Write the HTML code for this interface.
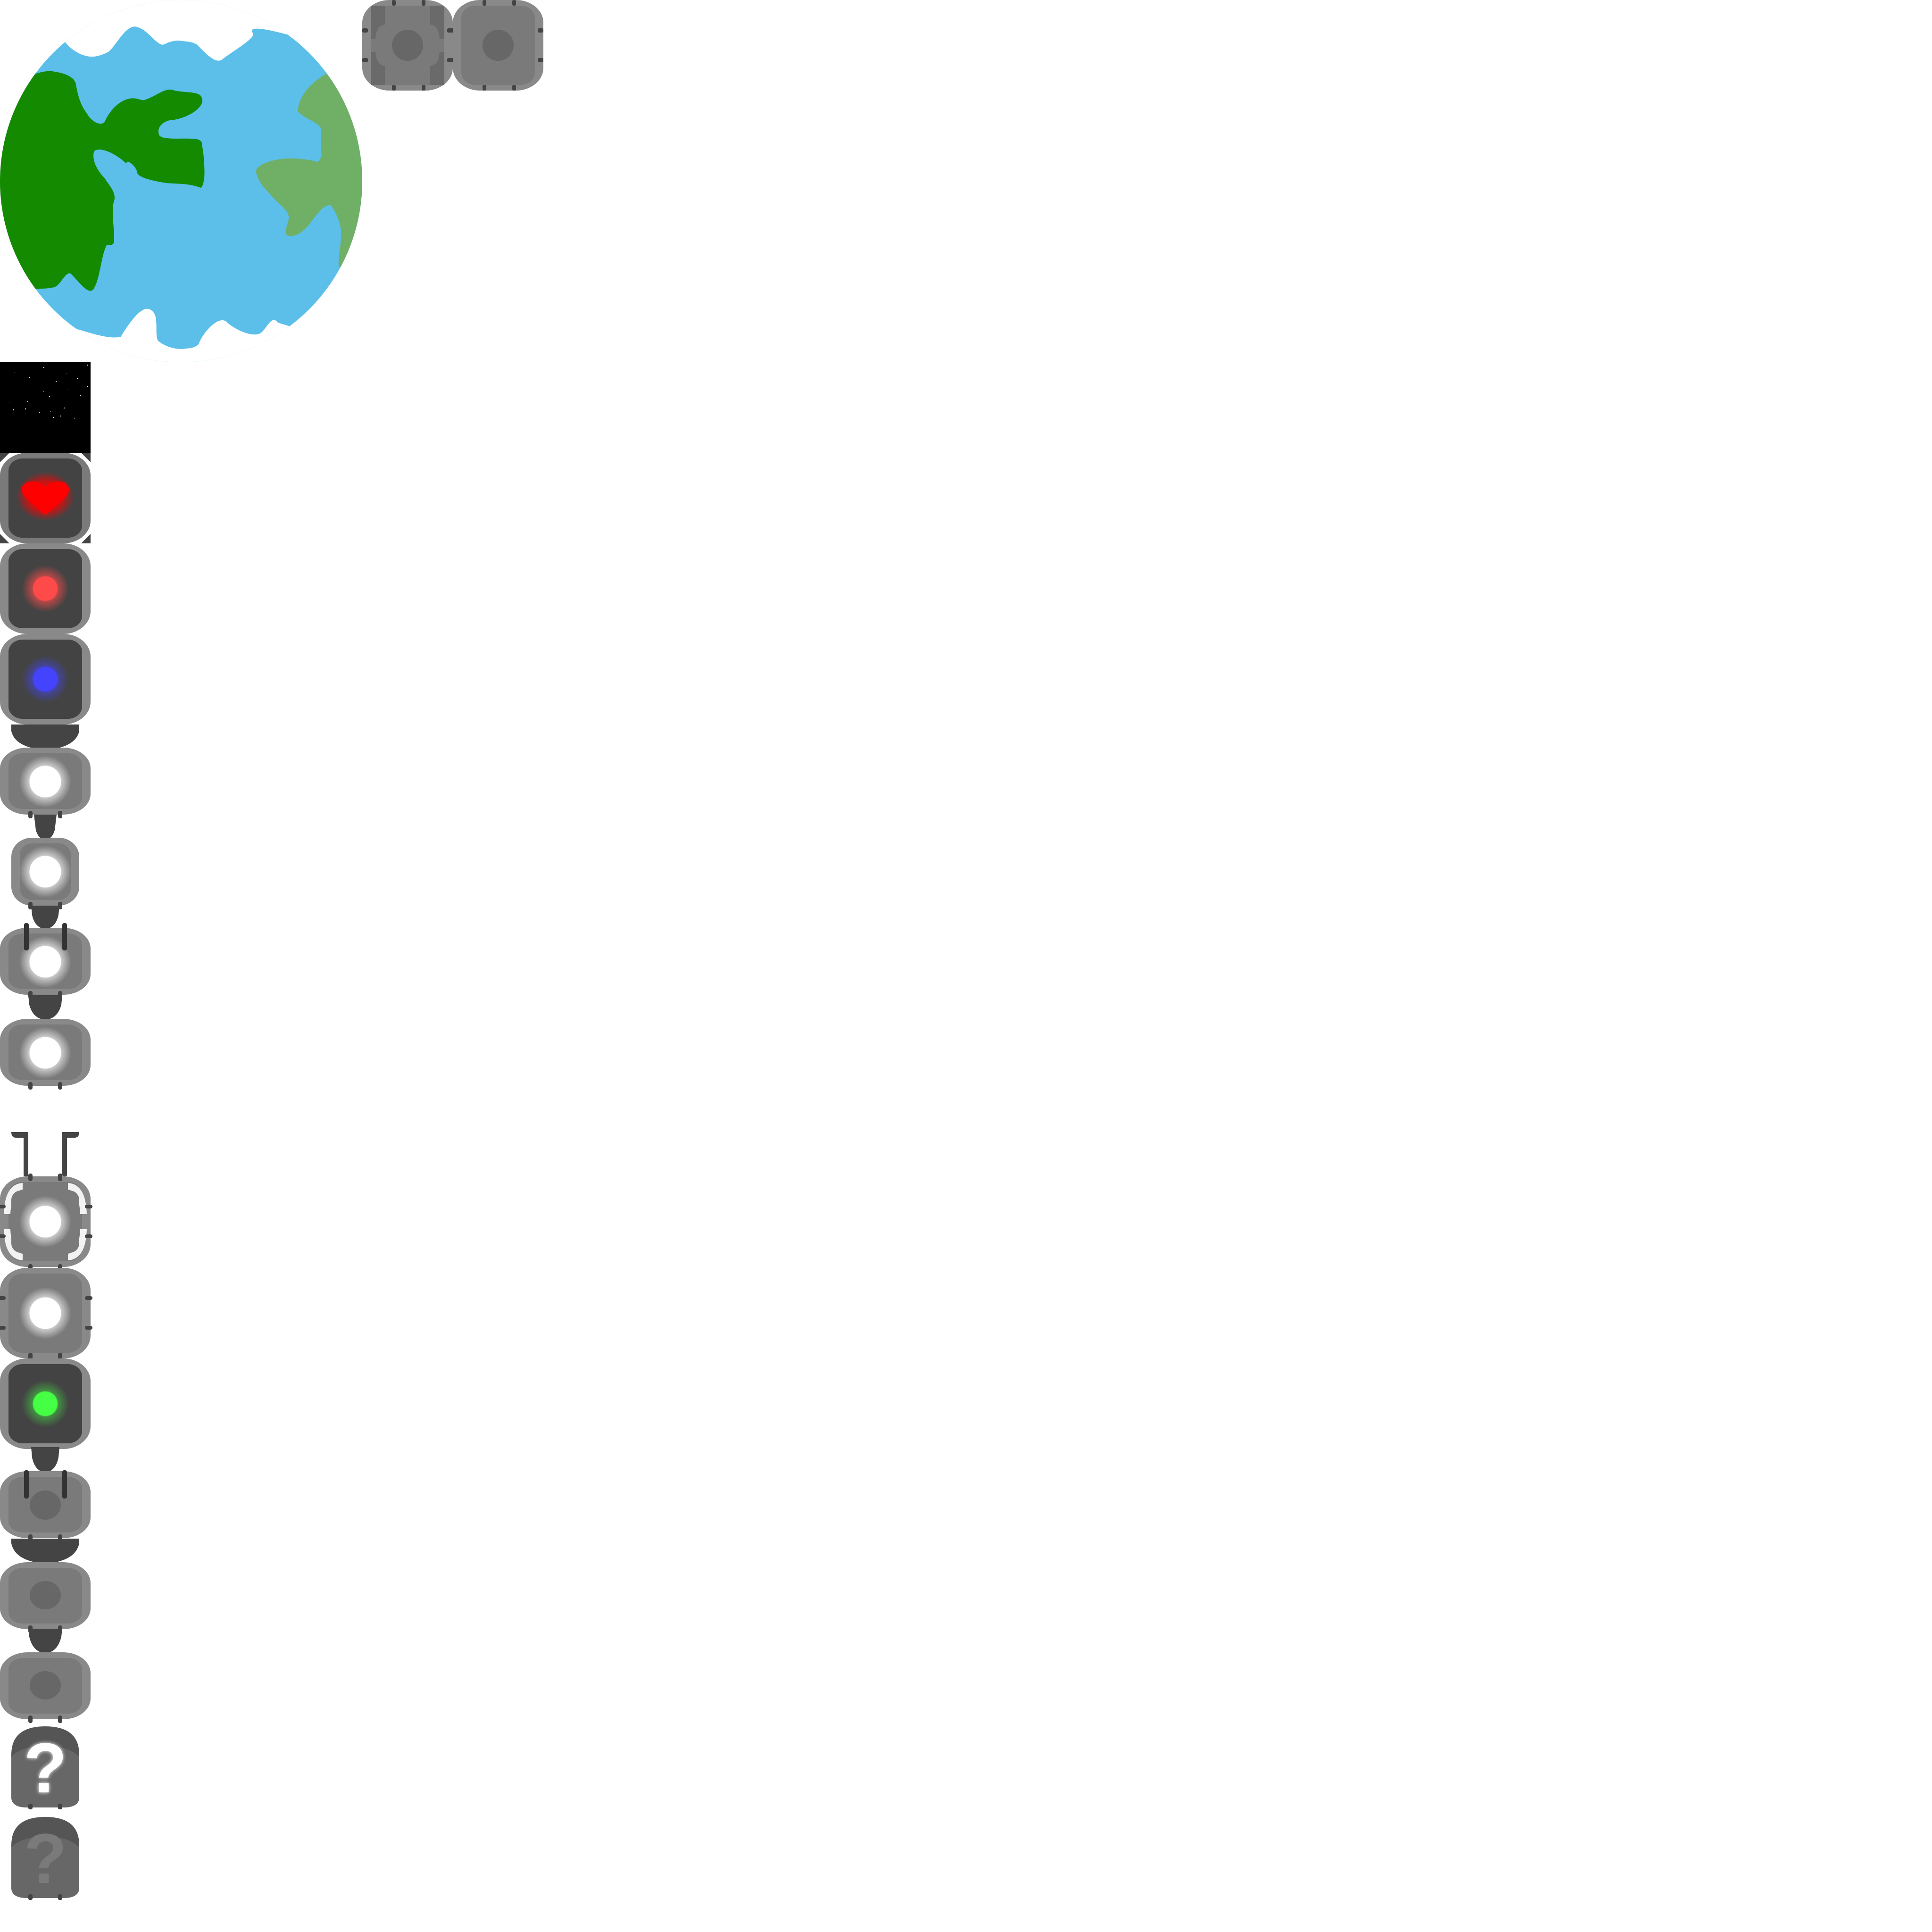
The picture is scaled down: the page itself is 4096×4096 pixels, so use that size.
<!DOCTYPE html>
<html><head><meta charset="utf-8"><style>html,body{margin:0;padding:0;background:#fff}svg{display:block}</style></head>
<body>
<svg width="4096" height="4096" viewBox="0 0 4096 4096" xmlns="http://www.w3.org/2000/svg">
<defs>
<clipPath id="gc"><circle cx="384" cy="384" r="384"/></clipPath>
<radialGradient id="gw"><stop offset="0.6" stop-color="#fff"/><stop offset="0.62" stop-color="#fff" stop-opacity="0.6"/><stop offset="1" stop-color="#fff" stop-opacity="0"/></radialGradient>
<radialGradient id="gr"><stop offset="0.5" stop-color="#ff4a4a"/><stop offset="0.55" stop-color="#ff4a4a" stop-opacity="0.6"/><stop offset="1" stop-color="#ff4a4a" stop-opacity="0"/></radialGradient>
<radialGradient id="gb"><stop offset="0.5" stop-color="#4444ff"/><stop offset="0.55" stop-color="#4444ff" stop-opacity="0.5"/><stop offset="1" stop-color="#4444ff" stop-opacity="0"/></radialGradient>
<radialGradient id="gg"><stop offset="0.5" stop-color="#44ff44"/><stop offset="0.55" stop-color="#44ff44" stop-opacity="0.4"/><stop offset="1" stop-color="#44ff44" stop-opacity="0"/></radialGradient>
<radialGradient id="gh"><stop offset="0.6" stop-color="#ff0000" stop-opacity="0.7"/><stop offset="1" stop-color="#ff0000" stop-opacity="0"/></radialGradient>
<g id="full"><rect x="0" y="0" width="192" height="192" rx="58" ry="48" fill="#898989"/><rect x="18" y="12" width="156" height="168" rx="30" ry="26" fill="#7a7a7a"/></g>
<g id="fulldark"><rect x="0" y="0" width="192" height="192" rx="58" ry="48" fill="#898989"/><rect x="18" y="12" width="156" height="168" rx="30" ry="26" fill="#434343"/></g>
<g id="sq"><rect x="0" y="0" width="192" height="142" rx="58" ry="44" fill="#898989"/><rect x="18" y="12" width="156" height="118" rx="30" ry="24" fill="#7a7a7a"/></g>
<g id="tabsb"><rect x="60" y="-8" width="9" height="16" rx="4" fill="#444"/><rect x="123" y="-8" width="9" height="16" rx="4" fill="#444"/></g>
<g id="tabss"><rect x="-4" y="0" width="16" height="8" rx="4" fill="#444"/><rect x="180" y="0" width="16" height="8" rx="4" fill="#444"/></g>
</defs>

<g clip-path="url(#gc)">
<rect x="0" y="0" width="768" height="768" fill="#5bbfea"/>
<path fill="#138a00" d="M-10,150 L77,156 C95,150 110,150 115,152 C140,155 160,165 161,180 C164,194 168,220 184,240 C195,260 215,268 222,258 C228,245 245,215 275,209 C290,206 300,214 306,212 C330,205 350,185 367,191 C390,198 425,192 428,208 C436,225 400,252 360,255 C345,258 332,270 337,285 C340,300 400,290 421,296 C430,300 428,306 428,306 C435,340 434,383 432,383 C430,398 425,398 425,398 C400,388 370,390 352,388 C320,383 290,375 291,365 C288,352 268,335 268,347 C240,320 205,310 199,322 C195,340 205,360 222,378 C235,398 248,410 241,429 C235,450 245,500 241,515 C238,522 230,518 226,520 C215,540 212,590 200,610 C190,630 170,600 150,580 C140,575 130,600 119,607 C110,612 90,612 77,612 L-10,612 Z"/>
<path fill="#70af66" d="M692,156 C660,175 635,200 631,235 C640,250 680,260 681,275 C678,300 683,320 681,332 C678,342 670,345 669,342 C640,335 610,335 597,337 C570,340 540,352 543,365 C548,390 566,403 580,420 C600,440 615,450 612,465 C608,480 600,498 612,500 C630,502 645,490 660,470 C675,450 695,425 704,439 C715,455 725,480 723,500 C722,530 715,555 719,566 L800,566 L800,150 Z"/>
<path fill="#fff" d="M0,0 L0,89 L138,89 C150,105 175,122 199,120 C215,118 225,112 230,110 C250,92 270,45 295,59 C315,65 335,100 348,94 C360,88 375,84 386,87 C400,88 410,90 417,94 C435,112 455,135 470,127 C490,110 545,80 536,70 C525,55 560,60 608,73 L608,0 Z"/>
<path fill="#fff" d="M0,768 L0,698 L164,698 C190,705 230,720 256,714 C265,700 300,640 321,658 C340,670 325,715 337,724 C355,738 380,742 394,739 C410,738 415,735 421,730 C430,705 465,665 482,684 C500,700 535,715 551,707 C565,700 575,665 589,684 L612,691 L612,768 Z"/>
</g>

<g transform="translate(768,0)">
<use href="#full"/>
<path d="M18,12 h30 v40 q-18,2 -20,30 h-10 Z" fill="#6a6a6a"/>
<path d="M174,12 h-30 v40 q18,2 20,30 h10 Z" fill="#6a6a6a"/>
<path d="M18,180 h30 v-40 q-18,-2 -20,-30 h-10 Z" fill="#6a6a6a"/>
<path d="M174,180 h-30 v-40 q18,-2 20,-30 h10 Z" fill="#6a6a6a"/>
<ellipse cx="96" cy="96" rx="33" ry="33" fill="#676767"/>
<rect x="63" y="0" width="8" height="12" rx="3" fill="#444"/><rect x="126" y="0" width="8" height="12" rx="3" fill="#444"/>
<rect x="63" y="180" width="8" height="12" rx="3" fill="#444"/><rect x="126" y="180" width="8" height="12" rx="3" fill="#444"/>
<rect x="0" y="60" width="12" height="9" rx="3" fill="#444"/><rect x="0" y="123" width="12" height="9" rx="3" fill="#444"/>
<rect x="180" y="60" width="24" height="9" rx="3" fill="#444"/><rect x="180" y="123" width="24" height="9" rx="3" fill="#444"/>
</g>
<g transform="translate(960,0)">
<use href="#full"/>
<ellipse cx="96" cy="96" rx="33" ry="33" fill="#676767"/>
<rect x="63" y="0" width="8" height="12" rx="3" fill="#444"/><rect x="126" y="0" width="8" height="12" rx="3" fill="#444"/>
<rect x="63" y="180" width="8" height="12" rx="3" fill="#444"/><rect x="126" y="180" width="8" height="12" rx="3" fill="#444"/>
<rect x="180" y="60" width="12" height="9" rx="3" fill="#444"/><rect x="180" y="123" width="12" height="9" rx="3" fill="#444"/>
</g>

<rect x="0" y="768" width="192" height="192" fill="#000"/>
<g fill="#fff">
<rect x="92" y="778" width="2" height="2"/><rect x="185" y="773" width="2" height="2"/><rect x="62" y="800" width="2" height="2"/><rect x="163" y="802" width="2" height="2"/><rect x="118" y="808" width="2" height="2"/><rect x="184" y="818" width="2" height="2"/><rect x="12" y="826" width="1" height="1"/><rect x="40" y="814" width="1" height="1"/><rect x="80" y="810" width="1" height="1"/><rect x="140" y="792" width="1" height="1"/><rect x="20" y="852" width="1" height="1"/><rect x="58" y="851" width="1" height="1"/><rect x="104" y="840" width="2" height="2"/><rect x="92" y="830" width="1" height="1"/><rect x="142" y="826" width="1" height="1"/><rect x="170" y="838" width="1" height="1"/><rect x="53" y="866" width="2" height="2"/><rect x="135" y="864" width="2" height="2"/><rect x="106" y="872" width="1" height="1"/><rect x="10" y="857" width="1" height="1"/><rect x="165" y="855" width="1" height="1"/><rect x="28" y="868" width="2" height="2"/><rect x="54" y="877" width="1" height="1"/><rect x="128" y="881" width="2" height="2"/><rect x="83" y="874" width="1" height="1"/><rect x="190" y="875" width="1" height="1"/><rect x="112" y="884" width="2" height="2"/><rect x="158" y="887" width="1" height="1"/><rect x="30" y="790" width="1" height="1"/><rect x="150" y="830" width="1" height="1"/>
</g>

<path d="M0,960 L20,960 L0,980 Z M192,960 L172,960 L192,980 Z M0,1152 L20,1152 L0,1132 Z M192,1152 L172,1152 L192,1132 Z" fill="#444"/>
<g transform="translate(0,960)">
<rect x="0" y="0" width="192" height="192" rx="58" ry="48" fill="#7a7a7a"/><rect x="18" y="12" width="156" height="168" rx="30" ry="26" fill="#434343"/>
<ellipse cx="96" cy="92" rx="62" ry="52" fill="url(#gh)"/>
<path d="M96,72 C80,56 50,56 46,76 C44,90 60,100 96,132 C132,100 148,90 146,76 C142,56 112,56 96,72 Z" fill="#f00"/>
</g>

<g transform="translate(0,1152)"><use href="#fulldark"/><ellipse cx="96" cy="96" rx="50" ry="50" fill="url(#gr)"/><ellipse cx="96" cy="96" rx="24" ry="24" fill="#ff4a4a"/></g>
<g transform="translate(0,1344)"><use href="#fulldark"/><ellipse cx="96" cy="96" rx="50" ry="50" fill="url(#gb)"/><ellipse cx="96" cy="96" rx="24" ry="24" fill="#4444ff"/></g>

<path d="M24,1536 H168 V1550 Q160,1585 96,1590 Q32,1585 24,1550 Z" fill="#444"/>
<g transform="translate(0,1585)"><use href="#sq"/><circle cx="96" cy="72" r="55" fill="url(#gw)"/><use href="#tabsb" transform="translate(0,142)"/></g>
<path d="M72,1727 H120 L116,1760 Q110,1780 96,1780 Q82,1780 76,1760 Z" fill="#444"/>
<g transform="translate(24,1776)"><rect width="144" height="144" rx="44" ry="40" fill="#898989"/><rect x="18" y="12" width="108" height="120" rx="26" ry="24" fill="#7a7a7a"/><circle cx="72" cy="72" r="55" fill="url(#gw)"/></g>
<g transform="translate(0,1920)"><use href="#tabsb"/></g>
<path d="M66,1920 H126 L124,1940 Q118,1967 96,1970 Q74,1967 68,1940 Z" fill="#444"/>
<g transform="translate(0,1967)"><use href="#sq"/><circle cx="96" cy="72" r="55" fill="url(#gw)"/>
<rect x="51" y="-10" width="10" height="58" rx="4" fill="#333"/><rect x="132" y="-10" width="10" height="58" rx="4" fill="#333"/>
<use href="#tabsb" transform="translate(0,142)"/></g>
<path d="M60,2110 H132 L130,2130 Q122,2160 96,2162 Q70,2160 62,2130 Z" fill="#444"/>
<g transform="translate(0,2160)"><use href="#sq"/><circle cx="96" cy="72" r="55" fill="url(#gw)"/><use href="#tabsb" transform="translate(0,142)"/></g>

<path d="M24,2400 H60 V2492 Q55,2497 50,2492 V2412 H34 Q24,2412 24,2400 Z" fill="#444"/>
<path d="M168,2400 H132 V2492 Q137,2497 142,2492 V2412 H158 Q168,2412 168,2400 Z" fill="#444"/>

<g transform="translate(0,2494)"><use href="#full"/>
<path d="M8,80 Q10,16 48,14 V28 Q24,32 22,80 Z" fill="#fff" opacity="0.9"/>
<path d="M184,80 Q182,16 144,14 V28 Q168,32 170,80 Z" fill="#fff" opacity="0.9"/>
<path d="M8,112 Q10,176 48,178 V164 Q24,160 22,112 Z" fill="#fff" opacity="0.9"/>
<path d="M184,112 Q182,176 144,178 V164 Q168,160 170,112 Z" fill="#fff" opacity="0.9"/>
<rect x="24" y="30" width="144" height="132" rx="20" fill="#7a7a7a"/>
<circle cx="96" cy="96" r="55" fill="url(#gw)"/>
<use href="#tabsb" transform="translate(0,2)"/><use href="#tabss" transform="translate(0,60)"/><use href="#tabss" transform="translate(0,123)"/></g>
<rect x="60" y="2680" width="9" height="16" rx="4" fill="#444"/><rect x="123" y="2680" width="9" height="16" rx="4" fill="#444"/>
<g transform="translate(0,2688)"><use href="#full"/><circle cx="96" cy="96" r="55" fill="url(#gw)"/><use href="#tabss" transform="translate(0,60)"/><use href="#tabss" transform="translate(0,123)"/><use href="#tabsb" transform="translate(0,188)"/></g>
<g transform="translate(0,2880)"><use href="#fulldark"/><ellipse cx="96" cy="96" rx="50" ry="50" fill="url(#gg)"/><ellipse cx="96" cy="96" rx="24" ry="24" fill="#44ff44"/></g>

<path d="M66,3068 H126 L124,3090 Q118,3119 96,3122 Q74,3119 68,3090 Z" fill="#444"/>
<g transform="translate(0,3119)"><use href="#sq"/><ellipse cx="96" cy="72" rx="33" ry="31" fill="#676767"/>
<rect x="51" y="-2" width="10" height="60" rx="4" fill="#333"/><rect x="132" y="-2" width="10" height="60" rx="4" fill="#333"/>
<use href="#tabsb" transform="translate(0,142)"/></g>
<path d="M24,3262 H168 V3272 Q160,3310 96,3315 Q32,3310 24,3272 Z" fill="#444"/>
<g transform="translate(0,3312)"><use href="#sq"/><ellipse cx="96" cy="70" rx="33" ry="30" fill="#676767"/><use href="#tabsb" transform="translate(0,142)"/></g>
<path d="M60,3453 H132 L130,3470 Q122,3503 96,3505 Q70,3503 62,3470 Z" fill="#444"/>
<g transform="translate(0,3503)"><use href="#sq"/><ellipse cx="96" cy="70" rx="33" ry="30" fill="#676767"/><use href="#tabsb" transform="translate(0,142)"/></g>

<g transform="translate(24,3660)">
<path d="M0,60 Q0,0 72,0 Q144,0 144,60 V150 Q144,172 110,172 H34 Q0,172 0,150 Z" fill="#555"/>
<path d="M0,65 Q20,42 72,42 Q124,42 144,65 V150 Q144,172 110,172 H34 Q0,172 0,150 Z" fill="#676767"/>
<text x="72" y="140" font-family="Liberation Sans, sans-serif" font-weight="bold" font-size="150" text-anchor="middle" fill="#fff" style="filter:drop-shadow(0 0 4px #fff)">?</text>
<rect x="36" y="164" width="9" height="12" rx="3" fill="#444"/><rect x="99" y="164" width="9" height="12" rx="3" fill="#444"/>
</g>
<g transform="translate(24,3852)">
<path d="M0,60 Q0,0 72,0 Q144,0 144,60 V150 Q144,172 110,172 H34 Q0,172 0,150 Z" fill="#555"/>
<path d="M0,65 Q20,42 72,42 Q124,42 144,65 V150 Q144,172 110,172 H34 Q0,172 0,150 Z" fill="#676767"/>
<text x="72" y="140" font-family="Liberation Sans, sans-serif" font-weight="bold" font-size="150" text-anchor="middle" fill="#7a7a7a">?</text>
<rect x="36" y="164" width="9" height="12" rx="3" fill="#444"/><rect x="99" y="164" width="9" height="12" rx="3" fill="#444"/>
</g>
</svg>
</body></html>
